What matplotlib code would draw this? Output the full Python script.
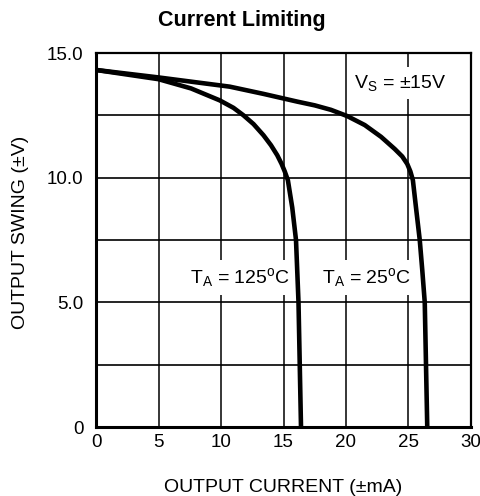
import matplotlib
matplotlib.use("Agg")
import matplotlib.pyplot as plt

plt.rcParams["font.family"] = ["Liberation Sans", "DejaVu Sans"]
plt.rcParams["mathtext.fontset"] = "custom"
plt.rcParams["mathtext.rm"] = "Liberation Sans"
plt.rcParams["mathtext.it"] = "Liberation Sans"

# Output swing vs. output current at two ambient temperatures
current_25c = [0, 5, 10.7, 13.4, 16.1, 17.5, 18.8, 20.1, 21.5, 22.8, 23.9, 24.5,
               24.9, 25.15, 25.35, 25.6, 25.9, 26.1, 26.3, 26.5]
swing_25c = [14.32, 14.02, 13.65, 13.36, 13.05, 12.9, 12.72, 12.47, 12.11, 11.64,
             11.15, 10.85, 10.55, 10.25, 9.9, 8.8, 7.5, 6.3, 5.0, 0]

current_125c = [0, 5, 7.6, 9.9, 11.0, 11.8, 12.6, 13.4, 14.0, 14.5, 14.85, 15.1,
                15.35, 15.7, 16.0, 16.2, 16.4]
swing_125c = [14.32, 13.95, 13.58, 13.1, 12.8, 12.5, 12.15, 11.7, 11.3, 10.9, 10.55,
              10.25, 9.9, 8.8, 7.5, 5.0, 0]

x_ticks = [0, 5, 10, 15, 20, 25, 30]
y_ticks = [0, 5.0, 10.0, 15.0]
y_tick_labels = ["0", "5.0", "10.0", "15.0"]
y_grid = [2.5, 5.0, 7.5, 10.0, 12.5]

fig = plt.figure(figsize=(4.81, 4.96), dpi=100)
ax = fig.add_axes([96 / 481, 69 / 496, 375 / 481, 374 / 496])

ax.set_xlim(0, 30)
ax.set_ylim(0, 15)

for xv in x_ticks[1:-1]:
    ax.axvline(xv, color="black", lw=1.1, zorder=1)
for yv in y_grid:
    ax.axhline(yv, color="black", lw=1.2, zorder=1)

ax.plot(current_25c, swing_25c, color="black", lw=3.3, zorder=4,
        solid_joinstyle="round", solid_capstyle="butt")
ax.plot(current_125c, swing_125c, color="black", lw=3.3, zorder=4,
        solid_joinstyle="round", solid_capstyle="butt")

ax.set_xticks(x_ticks)
ax.set_yticks(y_ticks)
ax.set_yticklabels(y_tick_labels)
ax.tick_params(length=0, labelsize=13.5)
ax.tick_params(axis="y", pad=9)
ax.tick_params(axis="x", pad=5)

for side in ["left", "bottom"]:
    ax.spines[side].set_linewidth(2.2)
for side in ["top", "right"]:
    ax.spines[side].set_linewidth(1.6)

box = dict(facecolor="white", edgecolor="none", pad=4)
label_size = 14
ax.text(20.6, 13.8, r"V$_\mathregular{S}$ = ±15V", fontsize=label_size,
        va="center", ha="left", bbox=box, zorder=3)
ax.text(7.5, 6.0, r"T$_\mathregular{A}$ = 125$^\mathregular{o}$C", fontsize=label_size,
        va="center", ha="left", bbox=box, zorder=3)
ax.text(18.1, 6.0, r"T$_\mathregular{A}$ = 25$^\mathregular{o}$C", fontsize=label_size,
        va="center", ha="left", bbox=box, zorder=3)

ax.set_xlabel("OUTPUT CURRENT (±mA)", fontsize=14, labelpad=20)
ax.set_ylabel("OUTPUT SWING (±V)", fontsize=14)
ax.yaxis.set_label_coords(-0.18, 0.52)
fig.text(0.503, 0.958, "Current Limiting", fontsize=15.5, fontweight="bold",
         ha="center", va="center")

fig.savefig("out.png", dpi=100)
